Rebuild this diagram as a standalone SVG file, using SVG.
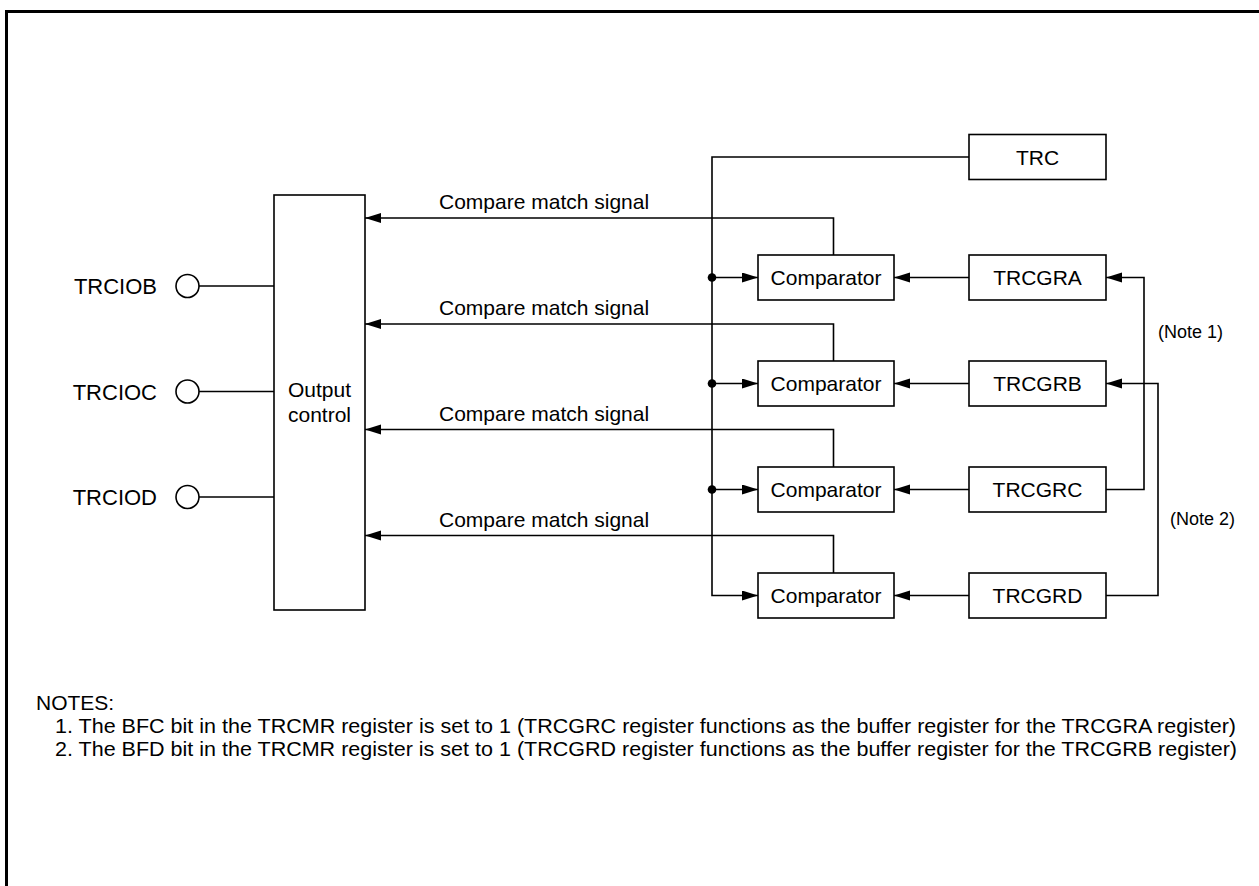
<svg xmlns="http://www.w3.org/2000/svg" width="1259" height="886" viewBox="0 0 1259 886">
<defs>
<style>
.box{fill:#fff;stroke:#000;stroke-width:1.6}
.ln{fill:none;stroke:#000;stroke-width:1.6}
.arr{marker-end:url(#ah)}
text{font-family:"Liberation Sans",Arial,sans-serif;fill:#000;font-size:21px}
.c{text-anchor:middle}
.note{font-size:18px}
.pin{font-size:22px;text-anchor:end}
</style>
<marker id="ah" markerUnits="userSpaceOnUse" markerWidth="17" markerHeight="11" refX="16" refY="5" orient="auto">
<path d="M0,0 L16,5 L0,10 Z" fill="#000"/>
</marker>
</defs>
<rect width="1259" height="886" fill="#fff"/>
<path d="M6.5,886 V11.5 H1259" fill="none" stroke="#000" stroke-width="3"/>

<g id="connectors">
<path class="ln" d="M969,157 H712 V595.5 H758" marker-end="url(#ah)"/>
<path class="ln arr" d="M712,277.5 H758"/>
<path class="ln arr" d="M712,383.5 H758"/>
<path class="ln arr" d="M712,489.5 H758"/>
<circle cx="712" cy="277.5" r="4.3"/>
<circle cx="712" cy="383.5" r="4.3"/>
<circle cx="712" cy="489.5" r="4.3"/>
<path class="ln arr" d="M833.5,255 V218 H365"/>
<path class="ln arr" d="M833.5,361 V324 H365"/>
<path class="ln arr" d="M833.5,467 V429.5 H365"/>
<path class="ln arr" d="M833.5,573 V535.5 H365"/>
<path class="ln arr" d="M969,277.5 H894"/>
<path class="ln arr" d="M969,383.5 H894"/>
<path class="ln arr" d="M969,489.5 H894"/>
<path class="ln arr" d="M969,595.5 H894"/>
<path class="ln arr" d="M1106,489.5 H1144 V277.5 H1106"/>
<path class="ln arr" d="M1106,595.5 H1158 V383.5 H1106"/>
<path class="ln" d="M199,286 H274"/>
<path class="ln" d="M199,391.5 H274"/>
<path class="ln" d="M199,497 H274"/>
<text x="439" y="209">Compare match signal</text>
<text x="439" y="315">Compare match signal</text>
<text x="439" y="420.5">Compare match signal</text>
<text x="439" y="526.5">Compare match signal</text>
<text class="note" x="1158" y="338">(Note 1)</text>
<text class="note" x="1170" y="525">(Note 2)</text>
</g>

<g id="pin-trciob">
<circle class="box" cx="187.5" cy="286" r="11.5"/>
<text class="pin" x="157" y="294">TRCIOB</text>
</g>
<g id="pin-trcioc">
<circle class="box" cx="187.5" cy="391.5" r="11.5"/>
<text class="pin" x="157" y="399.5">TRCIOC</text>
</g>
<g id="pin-trciod">
<circle class="box" cx="187.5" cy="497" r="11.5"/>
<text class="pin" x="157" y="505">TRCIOD</text>
</g>

<g id="output-control">
<rect class="box" x="274" y="195" width="91" height="415"/>
<text class="c" x="319.5" y="397">Output</text>
<text class="c" x="319.5" y="421.5">control</text>
</g>

<g id="trc">
<rect class="box" x="969" y="134.5" width="137" height="45"/>
<text class="c" x="1037.5" y="164.5">TRC</text>
</g>

<g id="comparator-a">
<rect class="box" x="758" y="255" width="136" height="45"/>
<text class="c" x="826" y="285">Comparator</text>
</g>
<g id="comparator-b">
<rect class="box" x="758" y="361" width="136" height="45"/>
<text class="c" x="826" y="391">Comparator</text>
</g>
<g id="comparator-c">
<rect class="box" x="758" y="467" width="136" height="45"/>
<text class="c" x="826" y="497">Comparator</text>
</g>
<g id="comparator-d">
<rect class="box" x="758" y="573" width="136" height="45"/>
<text class="c" x="826" y="603">Comparator</text>
</g>

<g id="trcgra">
<rect class="box" x="969" y="255" width="137" height="45"/>
<text class="c" x="1037.5" y="285">TRCGRA</text>
</g>
<g id="trcgrb">
<rect class="box" x="969" y="361" width="137" height="45"/>
<text class="c" x="1037.5" y="391">TRCGRB</text>
</g>
<g id="trcgrc">
<rect class="box" x="969" y="467" width="137" height="45"/>
<text class="c" x="1037.5" y="497">TRCGRC</text>
</g>
<g id="trcgrd">
<rect class="box" x="969" y="573" width="137" height="45"/>
<text class="c" x="1037.5" y="603">TRCGRD</text>
</g>

<g id="notes">
<text x="36" y="710">NOTES:</text>
<text x="55" y="733" textLength="1181" lengthAdjust="spacingAndGlyphs">1. The BFC bit in the TRCMR register is set to 1 (TRCGRC register functions as the buffer register for the TRCGRA register)</text>
<text x="55" y="756" textLength="1182" lengthAdjust="spacingAndGlyphs">2. The BFD bit in the TRCMR register is set to 1 (TRCGRD register functions as the buffer register for the TRCGRB register)</text>
</g>
</svg>
